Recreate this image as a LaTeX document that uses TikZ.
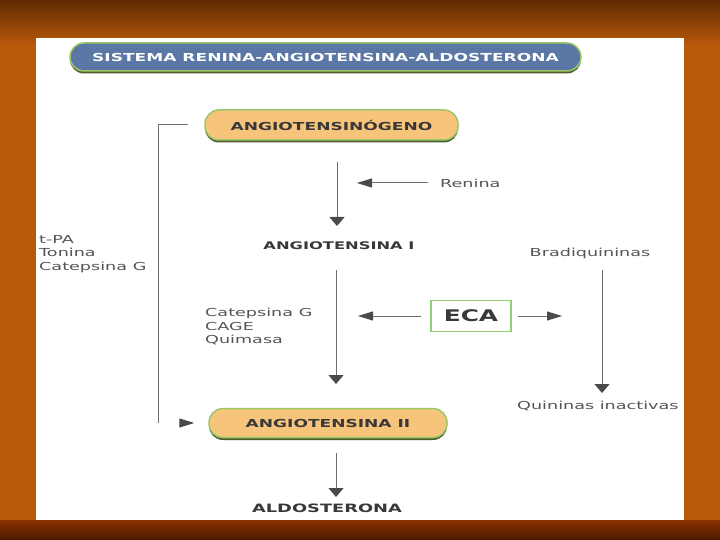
\documentclass[tikz,border=0pt]{standalone}
\usepackage{fontspec}
\usetikzlibrary{arrows.meta,shadows}
\newfontfamily\regf{DejaVu Sans}[FakeStretch=1.6]
\newfontfamily\boldf{DejaVu Sans}[FakeStretch=1.55]
\definecolor{bgorange}{HTML}{B8590A}
\definecolor{bgtop}{HTML}{5E2C00}
\definecolor{bgbot}{HTML}{4A1A00}
\definecolor{bgbotup}{HTML}{8A3200}
\definecolor{boxfill}{HTML}{F7C47C}
\definecolor{boxgreen}{HTML}{9CC86A}
\definecolor{shadowgreen}{HTML}{4E5E2A}
\definecolor{titleblue}{HTML}{5B77A5}
\definecolor{labtxt}{HTML}{383838}
\definecolor{regtxt}{HTML}{555555}
\definecolor{linegray}{HTML}{707070}
\definecolor{tipgray}{HTML}{4A4A4A}
\definecolor{ecagreen}{HTML}{94CC78}
\tikzset{
  pillbox/.style={draw=boxgreen, line width=1.5pt, fill=boxfill, rounded corners=14pt,
    inner sep=0pt, text=labtxt, font=\boldf\bfseries\fontsize{11}{13}\selectfont,
    drop shadow={shadow xshift=0pt, shadow yshift=-2.5pt, fill=shadowgreen, opacity=1}},
  boldlab/.style={inner sep=0pt, text=labtxt, font=\boldf\bfseries\fontsize{10.5}{13}\selectfont},
  reglab/.style={inner sep=0pt, text=regtxt, font=\regf\fontsize{11}{14}\selectfont, align=left},
  ln/.style={draw=linegray, line width=1pt},
  varr/.style={ln, -{Triangle[width=15pt,length=9pt,color=tipgray]}},
  harr/.style={ln, -{Triangle[width=9pt,length=15pt,color=tipgray]}},
}
\begin{document}
\begin{tikzpicture}[x=1pt,y=-1pt]
\useasboundingbox (0,0) rectangle (720,540);
% background
\fill[bgorange] (0,0) rectangle (720,540);
\shade[top color=bgtop, bottom color=bgorange] (0,0) rectangle (720,45);
\shade[top color=bgbotup, bottom color=bgbot] (0,520) rectangle (720,540);
\fill[white] (36,38) rectangle (684,520);
% title
\node[draw=boxgreen, line width=1.5pt, fill=titleblue, rounded corners=14pt,
  minimum width=511pt, minimum height=28pt, inner sep=0pt, text=white,
  font=\boldf\bfseries\fontsize{11}{13}\selectfont,
  drop shadow={shadow xshift=0pt, shadow yshift=-2.5pt, fill=shadowgreen, opacity=1}]
  (title) at (325.5,57) {SISTEMA RENINA-ANGIOTENSINA-ALDOSTERONA};
% main chain
\node[pillbox, minimum width=253pt, minimum height=30pt] (ango) at (331.5,125) {ANGIOTENSINÓGENO};
\node[boldlab] (ang1) at (339,246) {ANGIOTENSINA I};
\node[pillbox, minimum width=238pt, minimum height=29pt] (ang2) at (328,423) {ANGIOTENSINA II};
\node[boldlab, font=\boldf\bfseries\fontsize{11.5}{13}\selectfont] (aldo) at (327,508) {ALDOSTERONA};
\node[draw=ecagreen, line width=1.8pt, fill=white, minimum width=80pt, minimum height=31pt,
  inner sep=0pt, text=labtxt, font=\boldf\bfseries\fontsize{16}{18}\selectfont] (eca) at (471,316) {ECA};
% side labels
\node[reglab, anchor=west] (renina) at (440,183) {Renina};
\node[reglab, anchor=west, font=\regf\fontsize{11}{13.5}\selectfont] (tpa) at (39,254) {t-PA\\Tonina\\Catepsina G};
\node[reglab, anchor=west, font=\regf\fontsize{11}{13.5}\selectfont] (cat) at (205,327) {Catepsina G\\CAGE\\Quimasa};
\node[reglab] (brad) at (590,253) {Bradiquininas};
\node[reglab, anchor=west] (quin) at (517,406) {Quininas inactivas};
% coordinates for free ends
\coordinate (a1s) at (337,162);
\coordinate (a1e) at (337,226);
\coordinate (a2s) at (336,270);
\coordinate (a2e) at (336,384);
\coordinate (a3s) at (336,453);
\coordinate (a3e) at (336,497);
\coordinate (rtip) at (357,183);
\coordinate (eltip) at (358,316);
\coordinate (ertip) at (562,316);
\coordinate (bs) at (602,270);
\coordinate (be) at (602,393);
\coordinate (bk) at (158,125);
\coordinate (bkb) at (158,423);
\coordinate (bka) at (181,423);
% connectors
\draw[varr] (a1s) -- (a1e);
\draw[varr] (a2s) -- (a2e);
\draw[varr] (a3s) -- (a3e);
\draw[harr] ([xshift=-12pt]renina.west) -- (rtip);
\draw[harr] ([xshift=-9pt]eca.west) -- (eltip);
\draw[harr] ([xshift=6pt]eca.east) -- (ertip);
\draw[varr] (bs) -- (be);
\draw[ln] ([xshift=-16pt]ango.west) -- (bk) -- (bkb);
\draw[harr] (bka) -- ([xshift=-14pt]ang2.west);
\end{tikzpicture}
\end{document}
